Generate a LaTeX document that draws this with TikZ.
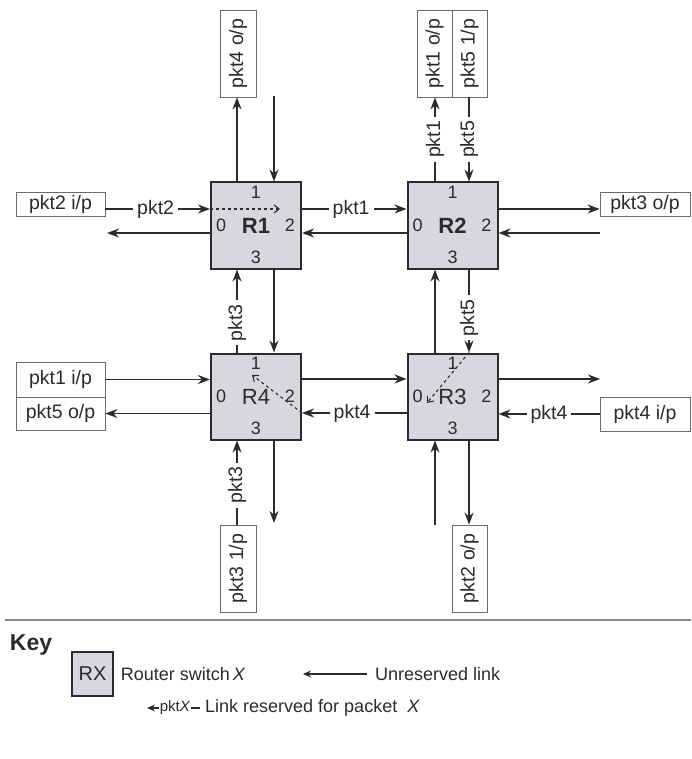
\documentclass[tikz,border=0pt]{standalone}
\usepackage{fontspec,graphicx}
\setmainfont{Liberation Sans}
\usetikzlibrary{arrows.meta,positioning}
\definecolor{ink}{HTML}{2B2B2E}
\definecolor{swfill}{HTML}{D7D7DF}
\definecolor{rule}{HTML}{8A8A8A}

\begin{document}
\begin{tikzpicture}[x=1pt,y=-1pt, every node/.style={font=\fontsize{19.5}{22}\selectfont,text=ink,inner sep=0pt}, router/.style={draw=ink,line width=2pt,fill=swfill,minimum width=90pt,minimum height=86pt,font=\fontsize{22}{24}\selectfont}, io/.style={draw=ink!70,line width=0.8pt,fill=white,minimum width=89pt}, vio/.style={io,minimum width=36pt,minimum height=87pt}, port/.style={font=\fontsize{18}{20}\selectfont,inner sep=2pt}, arr/.style={-{Stealth[length=12pt,width=9pt]},line width=1.8pt,draw=ink}, lbl/.style={fill=white,inner sep=4pt}, route/.style={-{Straight Barb[length=5pt,width=8pt]},dashed,line width=1.1pt,draw=ink}, keyfont/.style={font=\fontsize{18}{20}\selectfont}, keyarr/.style={-{Stealth[length=8pt,width=7pt]},line width=1.2pt,draw=ink}]
\useasboundingbox (0,0) rectangle (691,759);
% routers
\node[router] (R1) at (256,225.5) {\textbf{R1}};
\node[router] (R2) at (452.5,225.5) {\textbf{R2}};
\node[router] (R4) at (256,396.5) {R4};
\node[router] (R3) at (452.5,396.5) {R3};
\foreach \r in {R1,R2,R3,R4}{
  \node[port,below=2.5pt of \r.north] (\r p1) {1};
  \node[port,right=4pt of \r.west] (\r p0) {0};
  \node[port,left=5pt of \r.east] (\r p2) {2};
  \node[port,above=4pt of \r.south] (\r p3) {3};
}
% link rows and columns
\coordinate (ra) at (0,209);\coordinate (rb) at (0,233);\coordinate (rc) at (0,379);\coordinate (rd) at (0,413);
\coordinate (ca) at (237,0);\coordinate (cb) at (274,0);\coordinate (cc) at (435,0);\coordinate (cd) at (469,0);
% inputs and outputs
\node[io,minimum height=24pt] (pkt2in) at (60.5,204) {pkt2 i/p};
\node[io,minimum height=24pt,minimum width=90pt] (pkt3out) at (645,204) {pkt3 o/p};
\node[io,minimum height=35pt] (pkt1in) at (60.5,379.5) {pkt1 i/p};
\node[io,minimum height=33pt] (pkt5out) at (60.5,413.5) {pkt5 o/p};
\node[io,minimum height=34pt,minimum width=90pt] (pkt4in) at (645,414) {pkt4 i/p};
\node[vio] (pkt4out) at (238,53.5) {\rotatebox{90}{pkt4 o/p}};
\node[vio,minimum width=35pt] (pkt1out) at (434.5,53.5) {\rotatebox{90}{pkt1 o/p}};
\node[vio,minimum width=35pt] (pkt5src) at (469.5,53.5) {\rotatebox{90}{pkt5 1/p}};
\node[vio] (pkt3src) at (238,568.5) {\rotatebox{90}{pkt3 1/p}};
\node[vio,minimum width=35pt] (pkt2out) at (469.5,568.5) {\rotatebox{90}{pkt2 o/p}};
% free ends
\coordinate (n1) at (274,96);\coordinate (w1) at (107,233);\coordinate (e2) at (600,233);
\coordinate (e3) at (600,379);\coordinate (s4) at (274,523);\coordinate (s3) at (435,525);
% R1
\draw[arr] (ca |- R1.north) -- (ca |- pkt4out.south);
\draw[arr] (n1) -- (n1 |- R1.north);
\draw[arr] (pkt2in.east |- ra) -- node[lbl,pos=.48]{pkt2} (R1.west |- ra);
\draw[arr] (R1.west |- rb) -- (w1);
\draw[arr] (R1.east |- ra) -- node[lbl,pos=.47]{pkt1} (R2.west |- ra);
\draw[arr] (R2.west |- rb) -- (R1.east |- rb);
% R2
\draw[arr] (cc |- R2.north) -- node[lbl,rotate=90]{pkt1} (cc |- pkt1out.south);
\draw[arr] (cd |- pkt5src.south) -- node[lbl,rotate=90]{pkt5} (cd |- R2.north);
\draw[arr] (R2.east |- ra) -- (pkt3out.west |- ra);
\draw[arr] (e2) -- (R2.east |- rb);
% columns between rows
\draw[arr] (ca |- R4.north) -- node[lbl,rotate=90,pos=.36]{pkt3} (ca |- R1.south);
\draw[arr] (cb |- R1.south) -- (cb |- R4.north);
\draw[arr] (cc |- R3.north) -- (cc |- R2.south);
\draw[arr] (cd |- R2.south) -- node[lbl,rotate=90,pos=.58]{pkt5} (cd |- R3.north);
% R4
\draw[arr] (pkt1in.east) -- (R4.west |- pkt1in.east);
\draw[arr] (R4.west |- pkt5out.east) -- (pkt5out.east);
\draw[arr] (ca |- pkt3src.north) -- node[lbl,rotate=90,pos=.47]{pkt3} (ca |- R4.south);
\draw[arr] (cb |- R4.south) -- (s4);
\draw[arr] (R4.east |- rc) -- (R3.west |- rc);
\draw[arr] (R3.west |- rd) -- node[lbl,pos=.52]{pkt4} (R4.east |- rd);
% R3
\draw[arr] (R3.east |- rc) -- (e3);
\draw[arr] (pkt4in.west) -- node[lbl]{pkt4} (R3.east |- pkt4in.west);
\draw[arr] (s3) -- (s3 |- R3.south);
\draw[arr] (cd |- R3.south) -- (cd |- pkt2out.north);
% routes through the switches
\coordinate (R1to) at (280,209);\coordinate (R4to) at (252,375);\coordinate (R3to) at (427,403);
\draw[route] (R1.west |- ra) -- (R1to);
\draw[route] (R4.east |- rd) -- (R4to);
\draw[route] (cd |- R3.north) -- (R3to);
% key
\coordinate (sepl) at (5,620);\coordinate (sepr) at (691,620);
\draw[rule,line width=1.5pt] (sepl) -- (sepr);
\node[font=\fontsize{23}{25}\selectfont\bfseries] (key) at (31,645) {Key};
\node[router,minimum width=41pt,minimum height=44pt,line width=1.5pt,font=\fontsize{20}{22}\selectfont] (keysw) at (92.5,674) {RX};
\node[keyfont,right=7pt of keysw] (keyswtxt) {Router switch\,\textit{X}};
\coordinate (keyu) at (367,674);\coordinate (keyuend) at (303,674);
\node[keyfont,anchor=west] (keyutxt) at (375,674) {Unreserved link};
\draw[keyarr] (keyu) -- (keyuend);
\coordinate (keyr) at (200,708);\coordinate (keyrend) at (147,708);
\node[keyfont,anchor=west] (keyrtxt) at (205,708) {Link reserved for packet~~\textit{X}};
\draw[keyarr] (keyr) -- node[lbl,inner sep=1pt,pos=.47,font=\fontsize{15}{17}\selectfont]{pkt\textit{X}} (keyrend);
\end{tikzpicture}
\end{document}
